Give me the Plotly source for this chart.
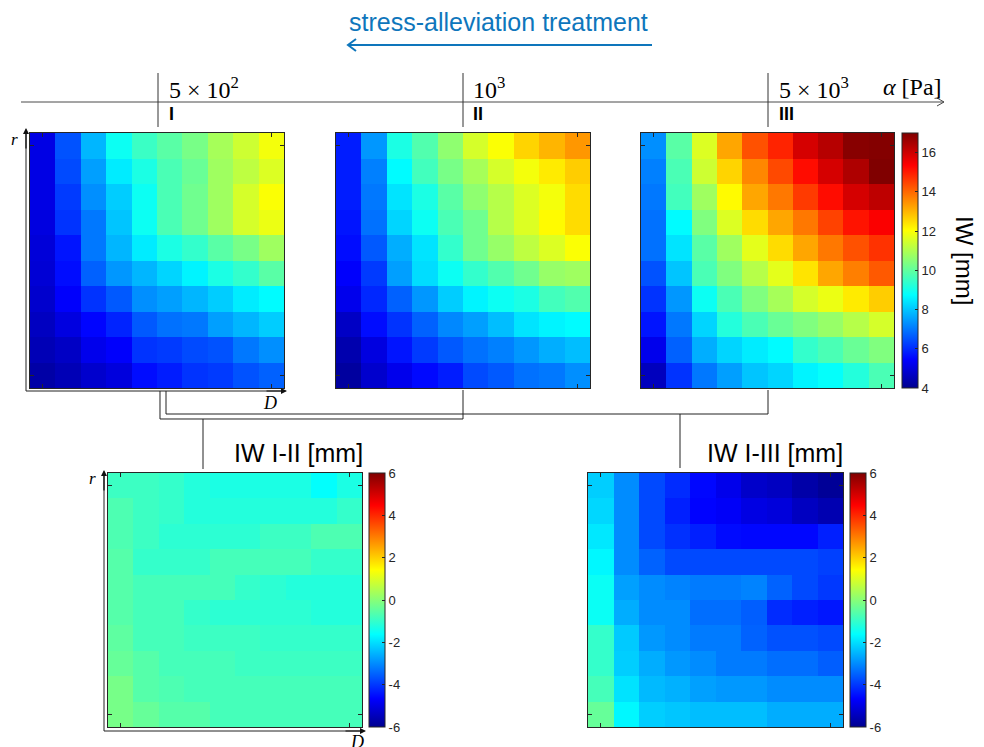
import plotly.graph_objects as go

W, H = 984, 747

# ---------------- data (rows: top -> bottom, columns: left -> right) ----------------
iw_I = [
    [5.1, 6.5, 7.8, 8.9, 9.5, 9.9, 10.3, 10.9, 11.4, 11.9],
    [5.1, 6.4, 7.5, 8.5, 9.1, 9.7, 10.1, 10.8, 11.2, 11.6],
    [5.1, 6.2, 7.3, 8.1, 8.9, 9.7, 10.2, 10.8, 11.5, 12.0],
    [5.05, 6.1, 7.0, 8.0, 8.9, 9.7, 10.2, 10.8, 11.5, 11.8],
    [4.95, 5.7, 7.0, 7.8, 8.5, 9.1, 9.4, 9.9, 10.3, 10.8],
    [4.9, 5.6, 6.7, 7.4, 7.8, 8.2, 8.6, 9.1, 9.4, 9.9],
    [4.8, 5.4, 6.1, 6.6, 7.3, 7.5, 7.8, 8.1, 8.5, 8.7],
    [4.65, 5.05, 5.5, 5.9, 6.6, 6.9, 7.0, 7.5, 7.8, 8.1],
    [4.5, 4.7, 5.2, 5.4, 6.1, 6.2, 6.4, 6.5, 7.0, 7.3],
    [4.3, 4.5, 4.8, 5.0, 5.6, 5.8, 6.1, 6.2, 6.5, 6.7],
]
iw_II = [
    [5.8, 7.4, 9.1, 9.8, 10.6, 11.5, 12.0, 12.6, 13.0, 13.4],
    [5.8, 7.1, 8.7, 9.6, 10.3, 10.9, 11.5, 11.9, 12.3, 12.7],
    [5.8, 7.0, 8.4, 9.1, 9.9, 10.6, 11.1, 11.6, 11.9, 12.5],
    [5.7, 6.9, 8.2, 8.9, 9.7, 10.2, 11.1, 11.6, 12.1, 12.5],
    [5.6, 6.6, 7.7, 8.4, 9.4, 10.2, 10.7, 11.2, 11.6, 12.0],
    [5.4, 6.2, 7.5, 8.3, 8.9, 9.4, 9.8, 10.2, 10.7, 10.8],
    [5.2, 5.95, 6.7, 7.4, 8.1, 8.6, 8.9, 9.1, 9.6, 9.8],
    [4.7, 5.6, 6.1, 6.7, 7.2, 7.5, 7.9, 8.4, 8.6, 8.7],
    [4.4, 5.05, 5.7, 6.2, 6.6, 6.9, 7.1, 7.4, 7.7, 7.9],
    [4.2, 4.8, 5.2, 5.55, 5.8, 6.4, 6.6, 6.9, 7.0, 7.3],
]
iw_III = [
    [7.3, 9.9, 11.6, 13.2, 14.3, 14.9, 15.9, 16.3, 16.9, 16.95],
    [7.1, 9.7, 11.4, 12.6, 13.6, 14.4, 15.2, 15.9, 16.4, 17.0],
    [7.0, 9.6, 10.8, 12.1, 13.2, 13.8, 14.6, 15.2, 15.9, 16.2],
    [6.9, 8.7, 10.4, 11.6, 12.5, 13.2, 13.8, 14.5, 15.1, 15.4],
    [6.9, 8.4, 9.9, 10.8, 11.7, 12.5, 13.2, 13.8, 14.3, 14.7],
    [6.5, 8.0, 9.7, 10.4, 11.1, 11.7, 12.4, 13.2, 13.7, 14.2],
    [6.1, 7.4, 8.9, 9.7, 10.4, 10.9, 11.5, 11.8, 12.3, 12.7],
    [5.7, 7.0, 8.2, 9.2, 9.7, 10.1, 10.4, 10.7, 11.1, 11.5],
    [5.2, 6.7, 7.7, 8.2, 8.5, 8.7, 9.4, 9.7, 10.1, 10.4],
    [4.6, 6.1, 7.0, 7.5, 8.0, 8.2, 8.6, 8.8, 9.2, 9.7],
]
diff_I_II = [
    [-0.9, -0.9, -1.0, -1.2, -1.3, -1.3, -1.3, -1.3, -1.6, -1.3],
    [-0.7, -0.9, -1.0, -1.2, -1.2, -1.2, -1.2, -1.2, -1.2, -1.0],
    [-0.7, -0.9, -1.1, -1.1, -1.1, -1.1, -0.9, -0.9, -0.7, -0.7],
    [-0.6, -1.0, -1.0, -1.0, -0.8, -0.8, -0.8, -0.8, -1.0, -1.0],
    [-0.6, -0.8, -0.8, -0.8, -0.8, -1.0, -1.1, -1.2, -1.2, -1.2],
    [-0.6, -0.8, -0.8, -1.0, -1.1, -1.1, -1.1, -1.1, -1.2, -1.2],
    [-0.5, -0.8, -0.8, -0.9, -0.9, -0.9, -1.0, -1.0, -1.0, -1.0],
    [-0.4, -0.6, -0.8, -0.8, -0.8, -0.9, -0.9, -0.9, -0.9, -0.9],
    [-0.2, -0.6, -0.7, -0.8, -0.8, -0.8, -0.8, -0.8, -0.8, -0.8],
    [-0.2, -0.4, -0.6, -0.6, -0.8, -0.8, -0.8, -0.8, -0.8, -0.8],
]
diff_I_III = [
    [-2.2, -3.0, -3.8, -4.15, -4.6, -4.9, -5.3, -5.4, -5.7, -5.9],
    [-2.1, -3.0, -3.8, -4.3, -4.65, -4.75, -5.0, -5.1, -5.4, -5.6],
    [-1.9, -3.0, -3.8, -4.1, -4.3, -4.55, -4.6, -4.6, -4.6, -4.3],
    [-1.7, -3.0, -3.5, -3.8, -3.8, -3.8, -3.8, -3.8, -3.8, -3.9],
    [-1.5, -2.75, -3.0, -3.1, -3.2, -3.2, -3.1, -3.5, -3.8, -4.0],
    [-1.5, -2.6, -3.0, -3.0, -3.35, -3.35, -3.55, -4.15, -4.3, -4.4],
    [-1.0, -2.25, -2.85, -3.0, -3.2, -3.2, -3.5, -3.7, -3.7, -3.8],
    [-1.0, -2.2, -2.6, -2.85, -3.0, -3.2, -3.2, -3.35, -3.35, -3.55],
    [-0.8, -1.95, -2.45, -2.55, -2.75, -2.85, -2.85, -3.0, -3.0, -3.0],
    [-0.4, -1.7, -2.2, -2.3, -2.4, -2.4, -2.4, -2.6, -2.6, -2.6],
]
cells = list(range(10))
iw_ticks = [4, 6, 8, 10, 12, 14, 16]
iw_ticktext = ["4", "6", "8", "10", "12", "14", "16"]
diff_ticks = [-6, -4, -2, 0, 2, 4, 6]
diff_ticktext = ["-6", "-4", "-2", "0", "2", "4", "6"]
alpha_labels = ["5 × 10<sup>2</sup>", "10<sup>3</sup>", "5 × 10<sup>3</sup>"]
stage_labels = ["I", "II", "III"]

# ---------------- helpers ----------------
def X(px):
    return px / W

def Y(py):
    return 1 - py / H

jet = [[0.0, "#00008F"], [0.111, "#0000FF"], [0.365, "#00FFFF"],
       [0.619, "#FFFF00"], [0.873, "#FF0000"], [1.0, "#800000"]]

SANS = "Liberation Sans"
SERIF = "Liberation Serif"
DARK = "#262626"
BLUE = "#0E76BC"

panels = [
    # (z, x0, x1, y0, y1, zmin, zmax, show colorbar, cb x)
    (iw_I, 30, 284, 133, 388, 4, 17, False, None),
    (iw_II, 336, 590, 133, 388, 4, 17, False, None),
    (iw_III, 641, 894, 133, 388, 4, 17, True, 902),
    (diff_I_II, 108, 362, 473, 727, -6, 6, True, 369),
    (diff_I_III, 588, 843, 473, 727, -6, 6, True, 850),
]

fig = go.Figure()
layout = {}
for i, (z, x0, x1, y0, y1, zmin, zmax, showcb, cbx) in enumerate(panels):
    n = "" if i == 0 else str(i + 1)
    cb = None
    if showcb:
        top = zmax == 17
        cb = dict(
            x=X(cbx), xanchor="left", xpad=0,
            y=(Y(y0) + Y(y1)) / 2, yanchor="middle", ypad=0,
            len=y1 - y0, lenmode="pixels", thickness=16, thicknessmode="pixels",
            outlinewidth=1, outlinecolor=DARK,
            tickmode="array",
            tickvals=iw_ticks if top else diff_ticks,
            ticktext=iw_ticktext if top else diff_ticktext,
            ticks="inside", ticklen=3, tickcolor=DARK,
            tickfont=dict(family=SANS, size=13, color=DARK),
        )
    fig.add_trace(go.Heatmap(
        z=z, x=cells, y=cells, colorscale=jet, zmin=zmin, zmax=zmax,
        showscale=showcb, colorbar=cb, xaxis="x" + n, yaxis="y" + n,
        hoverinfo="skip",
    ))
    common = dict(showline=True, linecolor=DARK, linewidth=1, mirror="ticks",
                  ticks="inside", ticklen=4, tickcolor=DARK, tickmode="array",
                  tickvals=[0, 9], showticklabels=False, showgrid=False,
                  zeroline=False, fixedrange=True)
    layout["xaxis" + n] = dict(domain=[X(x0), X(x1)], range=[-0.5, 9.5],
                               anchor="y" + n, **common)
    layout["yaxis" + n] = dict(domain=[Y(y1), Y(y0)], range=[9.5, -0.5],
                               anchor="x" + n, **common)

shapes = []
def line(x0, y0, x1, y1, color="#4a4a4a", width=1):
    shapes.append(dict(type="line", xref="paper", yref="paper",
                       x0=X(x0), y0=Y(y0), x1=X(x1), y1=Y(y1),
                       line=dict(color=color, width=width)))

def path(pts, color="#4a4a4a", width=1):
    d = "M " + " L ".join(f"{X(a):.5f},{Y(b):.5f}" for a, b in pts)
    shapes.append(dict(type="path", xref="paper", yref="paper", path=d,
                       line=dict(color=color, width=width)))

# alpha axis
line(21, 102, 944, 102)
path([(937, 98), (944, 102), (937, 106)])
for tx in (158, 463, 768):
    line(tx, 73, tx, 127, color="#333333")

# title arrow
line(348, 45, 652, 45, color=BLUE, width=2)
path([(356, 39), (348, 45), (356, 51)], color=BLUE, width=2)

# brackets joining the panels
path([(160, 391), (160, 419), (463, 419), (463, 390)], color="#222222")
path([(166, 391), (166, 414), (768, 414), (768, 390)], color="#222222")
line(203, 419, 203, 469, color="#222222")
line(680, 414, 680, 468, color="#222222")

# panel axes (r, D) lines
line(26, 391, 26, 133, color="#222222")
line(26, 391, 282, 391, color="#222222")
line(104, 731, 104, 476, color="#222222")
line(104, 731, 360, 731, color="#222222")

annotations = []
def arrow(hx, hy, tx, ty):
    annotations.append(dict(x=X(hx), y=Y(hy), xref="paper", yref="paper",
                            ax=tx - hx, ay=ty - hy, text="", showarrow=True,
                            arrowhead=2, arrowsize=1, arrowwidth=1.2,
                            arrowcolor="#111111", standoff=0))

arrow(26, 128, 26, 150)
arrow(287, 391, 265, 391)
arrow(104, 470, 104, 492)
arrow(366, 731, 344, 731)

def text(x, y, s, size, family=SANS, color="black", xanchor="center", angle=0):
    annotations.append(dict(x=X(x), y=Y(y), xref="paper", yref="paper", text=s,
                            showarrow=False, xanchor=xanchor, yanchor="middle",
                            textangle=angle,
                            font=dict(family=family, size=size, color=color)))

text(498, 22, "stress-alleviation treatment", 25, color=BLUE)
for tx, lab, st in zip((167, 471, 777), alpha_labels, stage_labels):
    text(tx, 88, lab, 24, family=SERIF, xanchor="left")
    text(tx, 114, "<b>" + st + "</b>", 18, xanchor="left")
text(881, 87, "<i>α</i> [Pa]", 24, family=SERIF, xanchor="left")
text(965, 260, "IW [mm]", 24, angle=90)
text(298, 453, "IW I-II [mm]", 25)
text(775, 453, "IW I-III [mm]", 25)
text(14, 139, "<i>r</i>", 17, family=SERIF)
text(270, 403, "<i>D</i>", 18, family=SERIF)
text(92, 478, "<i>r</i>", 17, family=SERIF)
text(357, 742, "<i>D</i>", 18, family=SERIF)

fig.update_layout(
    width=W, height=H, margin=dict(l=0, r=0, t=0, b=0),
    paper_bgcolor="white", plot_bgcolor="white",
    shapes=shapes, annotations=annotations, showlegend=False,
    **layout,
)

fig.write_html("out.html", config={"displayModeBar": False},
               post_script="document.body.style.margin='0';document.body.style.overflow='hidden';")
